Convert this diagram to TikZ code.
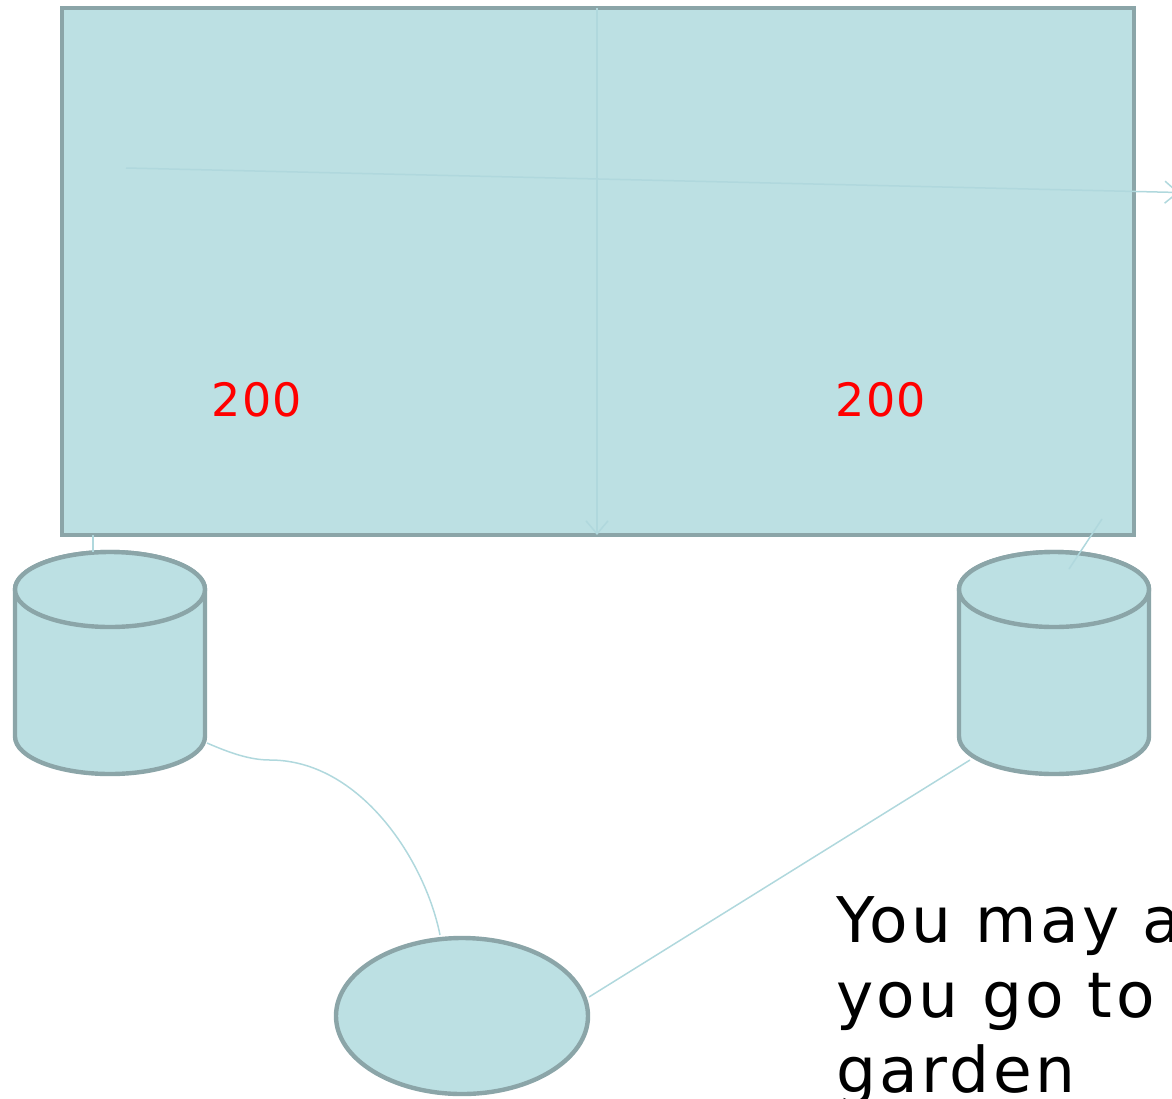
\documentclass[tikz,border=0pt]{standalone}
\usepackage{fontspec}
\setmainfont{DejaVu Sans}
\newfontfamily\widefont[LetterSpace=5.5]{DejaVu Sans}
\newfontfamily\numfont[LetterSpace=3]{DejaVu Sans}
\usetikzlibrary{shapes.geometric,arrows.meta,calc}
\definecolor{boxfill}{RGB}{188,224,227}
\definecolor{boxline}{RGB}{139,165,168}
\definecolor{linkcol}{RGB}{176,216,221}
\tikzset{
  shapebox/.style={draw=boxline, fill=boxfill, line width=4.4pt, inner sep=0pt, outer sep=0pt},
  drumpath/.style={draw=boxline, fill=boxfill, line width=4.4pt, line join=round},
  link/.style={draw=linkcol, line width=1.5pt},
  linkarrow/.style={link, -{Straight Barb[length=13pt,width=22pt,line width=1.5pt]}},
  figure/.style={text=red, font=\numfont\fontsize{46}{50}\selectfont},
  note/.style={text=black, font=\widefont\fontsize{63}{75}\selectfont, align=left, inner sep=0pt}
}
\begin{document}
\begin{tikzpicture}[x=1pt,y=-1pt]
  \useasboundingbox (0,0) rectangle (1172,1098);
  % main panel
  \node[shapebox, rectangle, minimum width=1072pt, minimum height=527pt] (panel) at (598,271.5) {};
  % storage drums (body, then the top cap)
  \coordinate (drumL) at (110,663);
  \coordinate (drumR) at (1054,663);
  \foreach \d in {drumL,drumR}{
    \path[drumpath] ($(\d)+(-95,-73.5)$) -- ($(\d)+(-95,73.5)$)
      arc[start angle=180, end angle=360, x radius=95, y radius=-37.5]
      -- ($(\d)+(95,-73.5)$)
      arc[start angle=0, end angle=180, x radius=95, y radius=-37.5] -- cycle;
    \path[drumpath] ($(\d)+(0,-73.5)$) ellipse[x radius=95, y radius=37.5];
  }
  % round node below
  \node[shapebox, ellipse, minimum width=252pt, minimum height=156pt] (blob) at (462,1016) {};
  % link end points
  \coordinate (vtop) at (597,8);
  \coordinate (vbot) at (597,535);
  \coordinate (hstart) at (126,168);
  \coordinate (hend) at (1179,192.5);
  \coordinate (lA) at (93,535);
  \coordinate (lB) at (93,552);
  \coordinate (rA) at (1102,519);
  \coordinate (rB) at (1069,569);
  \coordinate (cA) at (207,743);
  \coordinate (cM) at (270,760);
  \coordinate (cB) at (440,935);
  \coordinate (sA) at (970,760);
  \coordinate (sB) at (589,997);
  % links
  \draw[linkarrow] (vtop) -- (vbot);
  \draw[linkarrow] (hstart) -- (hend);
  \draw[link] (lA) -- (lB);
  \draw[link] (rA) -- (rB);
  \draw[link] (cA) .. controls (230,753) and (250,760) .. (cM)
                  .. controls (360,760) and (425,860) .. (cB);
  \draw[link] (sA) -- (sB);
  % labels
  \node[figure] (numL) at (257,400) {200};
  \node[figure] (numR) at (881,400) {200};
  \node[note, anchor=base west] (caption) at (836,1092) {You may a\\you go to\\garden};
\end{tikzpicture}
\end{document}
